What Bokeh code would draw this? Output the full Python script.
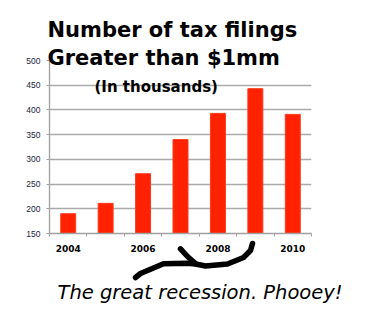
from bokeh.plotting import figure
from bokeh.models import ColumnDataSource, FixedTicker, Range1d, GridBox
from bokeh.core.properties import value
from bokeh.embed import file_html
from bokeh.resources import INLINE

years = [2004, 2005, 2006, 2007, 2008, 2009, 2010]
filings = [190, 211, 271, 340, 393, 443, 391]
y_ticks = [150, 200, 250, 300, 350, 400, 450, 500]
x_labeled = [2004, 2006, 2008, 2010]
title_lines = ["Number of tax filings", "Greater than $1mm"]
subtitle = "(In thousands)"
note = "The great recession. Phooey!"

W, H = 377, 311

# ---------------- main chart ----------------
p = figure(width=W, height=H, output_backend="svg", toolbar_location=None,
           x_range=Range1d(2003.5, 2010.5), y_range=Range1d(150, 500),
           min_border_left=49, min_border_right=66, min_border_top=60,
           min_border_bottom=78)
p.frame_align = False
p.outline_line_color = None
p.background_fill_color = "white"
p.border_fill_color = "white"

src = ColumnDataSource(dict(year=years, v=filings))
p.vbar(x="year", top="v", bottom=150, width=0.4, source=src,
       fill_color="#FF2200", line_color="#FF3A1A", line_width=1)

p.xgrid.visible = False
p.ygrid.grid_line_color = "#AAAAAA"
p.ygrid.grid_line_width = 1.3
p.ygrid.ticker = FixedTicker(ticks=y_ticks)

ya = p.yaxis[0]
ya.ticker = FixedTicker(ticks=y_ticks)
ya.axis_line_color = "#A0A0A0"
ya.axis_line_width = 1.3
ya.major_tick_line_color = "#A0A0A0"
ya.major_tick_in = 0
ya.major_tick_out = 3
ya.minor_tick_line_color = None
ya.major_label_text_font = "Liberation Sans"
ya.major_label_text_font_size = "8.5px"
ya.major_label_text_color = "#1C2440"
ya.major_label_standoff = 6

xa = p.xaxis[0]
xa.ticker = FixedTicker(ticks=x_labeled,
                        minor_ticks=[y - 0.5 for y in years] + [years[-1] + 0.5])
xa.axis_line_color = "#A0A0A0"
xa.axis_line_width = 1.3
xa.major_tick_line_color = None
xa.major_tick_in = 0
xa.major_tick_out = 4
xa.minor_tick_line_color = "#A0A0A0"
xa.minor_tick_in = 0
xa.minor_tick_out = 3
xa.major_label_text_font = "DejaVu Sans"
xa.major_label_text_font_style = "bold"
xa.major_label_text_font_size = "9px"
xa.major_label_text_color = "black"
xa.major_label_standoff = 7

# ---------------- transparent overlay for titles / hand annotation ----------------
o = figure(width=W, height=H, output_backend="svg", toolbar_location=None,
           x_range=Range1d(0, W), y_range=Range1d(H, 0),
           x_axis_type=None, y_axis_type=None,
           min_border_left=0, min_border_right=0, min_border_top=0, min_border_bottom=0)
o.frame_align = False
o.outline_line_color = None
o.background_fill_color = None
o.border_fill_color = None
o.grid.visible = False

o.text(x=[47, 47], y=[29, 57], text=title_lines, text_font=value("DejaVu Sans"),
       text_font_style="bold", text_font_size="21px", text_color="black",
       text_baseline="alphabetic")
o.text(x=[94], y=[86], text=[subtitle], text_font=value("DejaVu Sans"),
       text_font_style="bold", text_font_size="15px", text_color="black",
       text_baseline="alphabetic")
o.text(x=[57], y=[292], text=[note], text_font=value("DejaVu Sans"),
       text_font_style="italic", text_font_size="19.5px", text_color="black",
       text_baseline="alphabetic")

squiggle_x = [135, 140, 163, 187, 195, 205, 227, 243, 250, 252]
squiggle_y = [277, 273, 263.3, 262.7, 263.5, 265.5, 263.5, 257, 250, 243]
hook_x = [180, 187, 195]
hook_y = [248.3, 256, 263]
o.line(squiggle_x, squiggle_y, line_color="black", line_width=5.5,
       line_join="round", line_cap="round")
o.line(hook_x, hook_y, line_color="black", line_width=5.5,
       line_join="round", line_cap="round")

grid = GridBox(children=[(p, 0, 0), (o, 0, 0)])
open("out.html", "w").write(file_html(grid, INLINE))
